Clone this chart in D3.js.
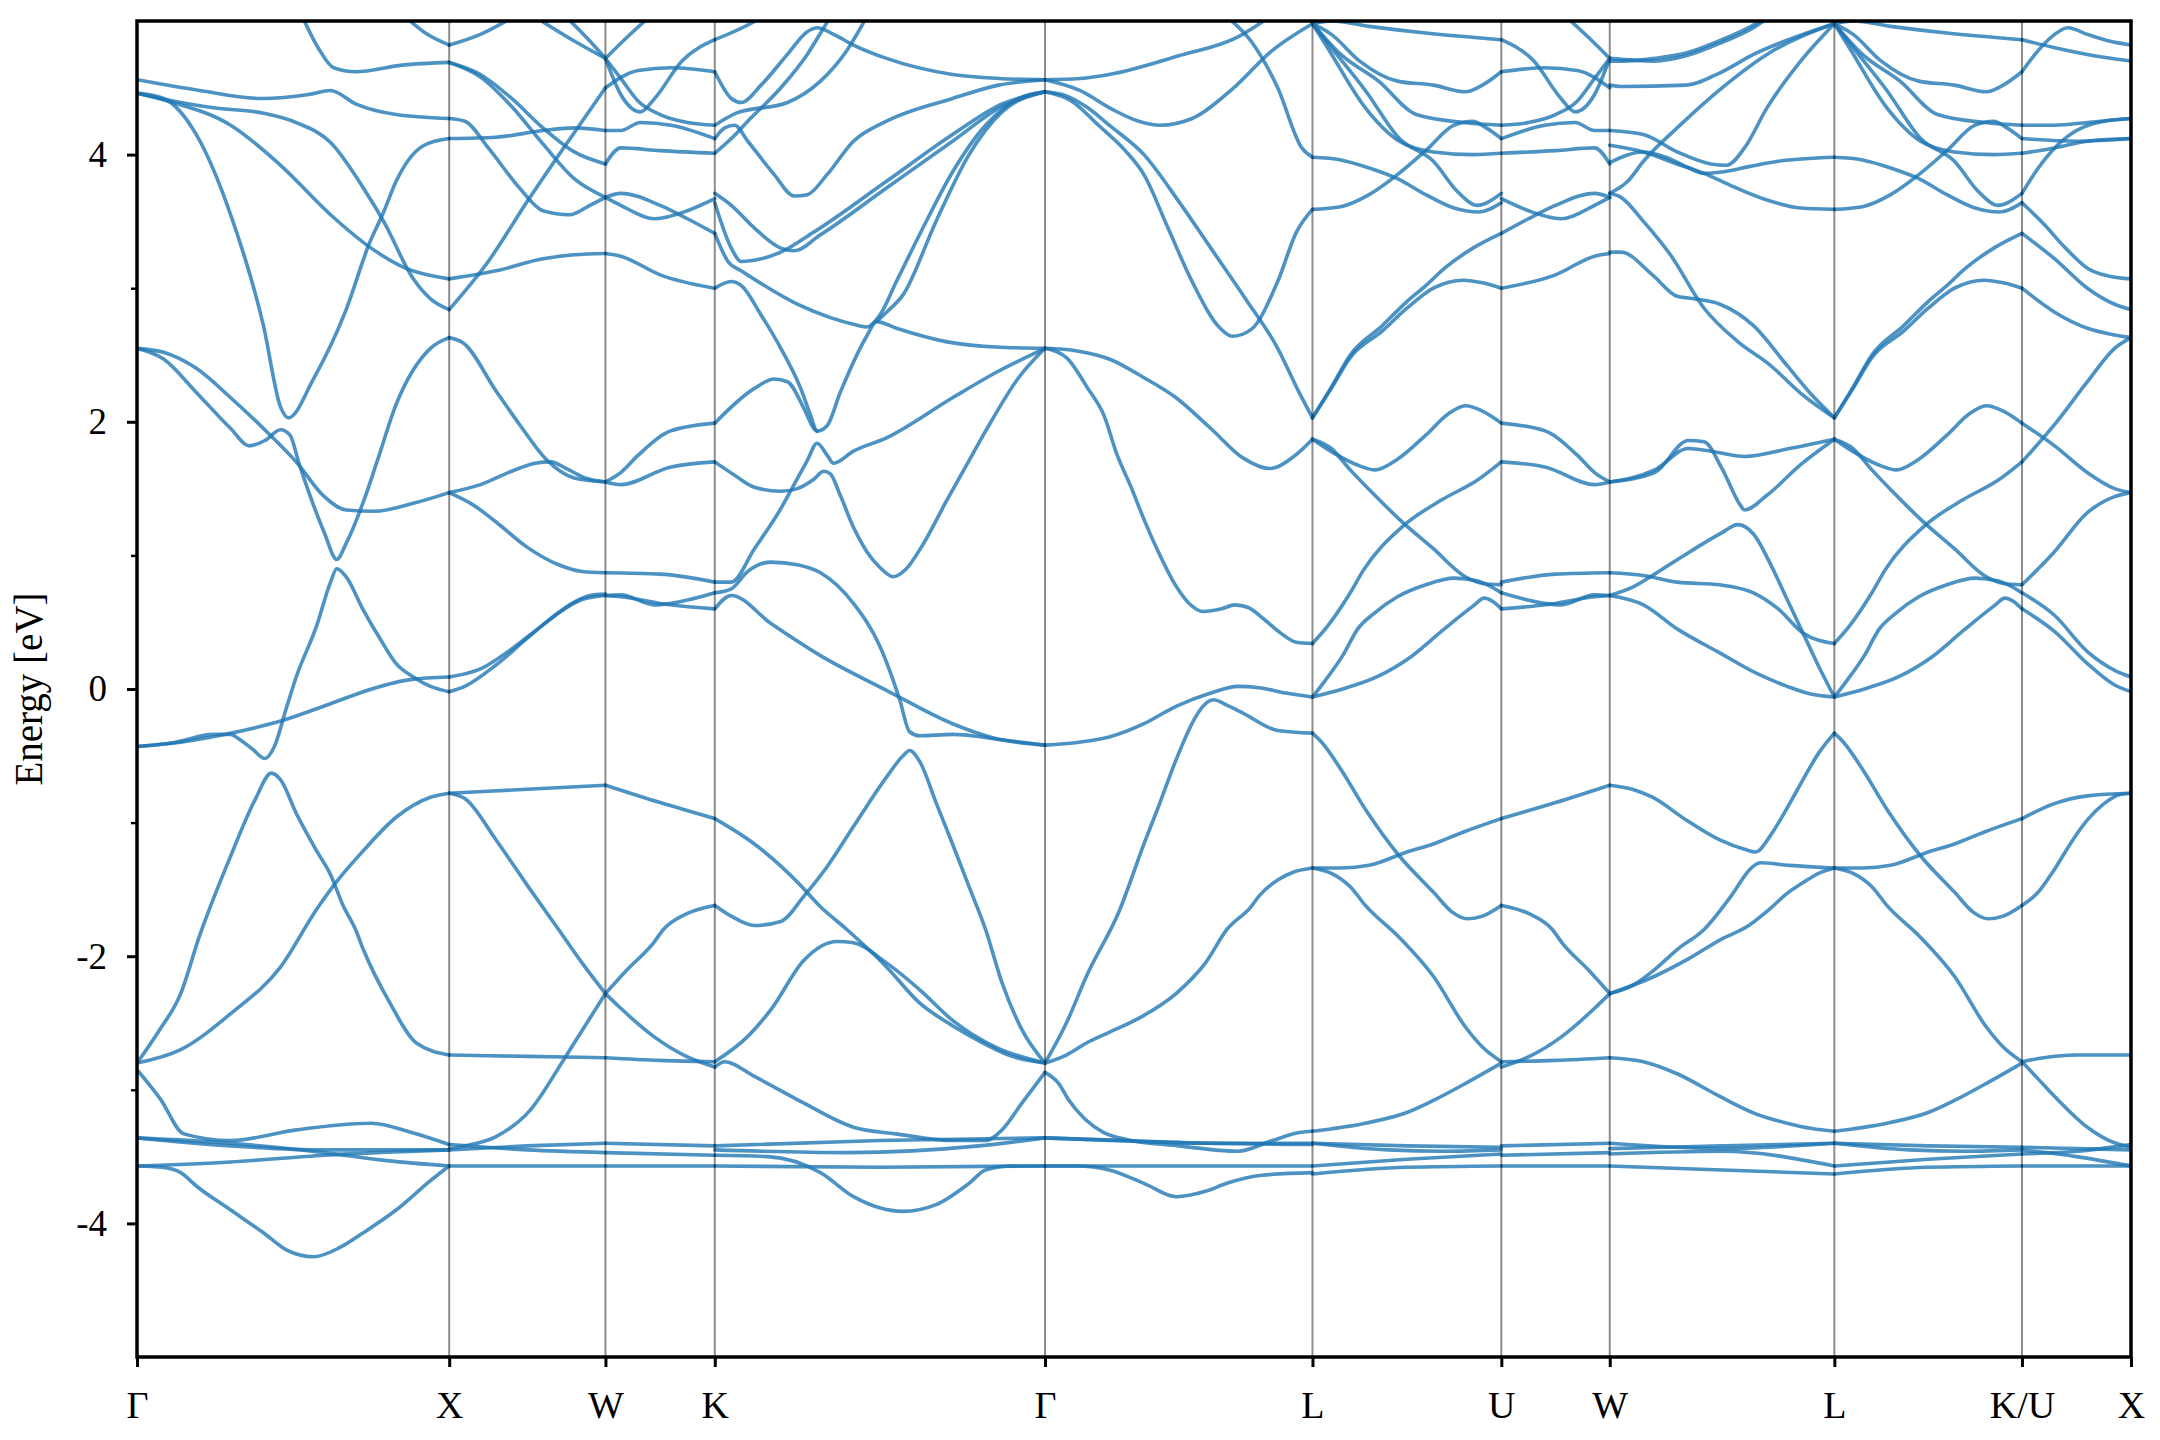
<!DOCTYPE html>
<html><head><meta charset="utf-8">
<script src="https://cdn.jsdelivr.net/npm/d3@7"></script>
<style>body{margin:0;background:#fff}svg{display:block}</style>
</head><body>
<script>
// ---------------- data ----------------
const kTicks = [0, 1.005, 1.508, 1.860, 2.923, 3.784, 4.392, 4.741, 5.464, 6.068, 6.419];
const kLabels = ["Γ","X","W","K","Γ","L","U","W","L","K/U","X"];
const yMajor = [-4, -2, 0, 2, 4];
const yMinor = [-3, -1, 1, 3];

// bands per segment: [t (0..1 along the segment), E (eV)]
const bandsGX = [
 [[0,4.56],[0.2,4.48],[0.4,4.42],[0.55,4.45],[0.62,4.48],[0.7,4.38],[0.83,4.30],[1,4.27]],
 [[0,4.46],[0.12,4.40],[0.245,4.35],[0.405,4.31],[0.51,4.24],[0.62,4.09],[0.725,3.75],[0.79,3.50],[0.885,3.07],[0.94,2.92],[1,2.84]],
 [[0,4.46],[0.1,4.40],[0.3,4.22],[0.46,3.92],[0.62,3.55],[0.75,3.30],[0.86,3.15],[1,3.07]],
 [[0,4.46],[0.085,4.42],[0.19,4.15],[0.3,3.55],[0.405,2.72],[0.46,2.11],[0.485,2.03],[0.565,2.32],[0.67,2.84],[0.745,3.34],[0.79,3.57],[0.83,3.80],[0.92,4.07],[1,4.12]],
 [[0.53,5.03],[0.58,4.80],[0.63,4.65],[0.7,4.62],[0.85,4.67],[1,4.69]],
 [[0.86,5.03],[0.93,4.90],[1,4.82]],
 [[0,2.55],[0.085,2.52],[0.19,2.40],[0.3,2.18],[0.405,1.95],[0.51,1.70],[0.6,1.44],[0.67,1.34],[0.76,1.33],[0.885,1.39],[1,1.47]],
 [[0,2.55],[0.085,2.47],[0.19,2.22],[0.3,1.95],[0.36,1.82],[0.41,1.86],[0.46,1.94],[0.49,1.90],[0.52,1.68],[0.56,1.41],[0.6,1.17],[0.64,0.97],[0.67,1.09],[0.725,1.40],[0.77,1.71],[0.83,2.13],[0.94,2.55],[1,2.63]],
 [[0,-0.43],[0.12,-0.40],[0.245,-0.34],[0.3,-0.34],[0.33,-0.38],[0.37,-0.45],[0.41,-0.52],[0.44,-0.43],[0.48,-0.13],[0.51,0.09],[0.575,0.47],[0.62,0.80],[0.64,0.90],[0.67,0.84],[0.725,0.59],[0.78,0.37],[0.83,0.19],[0.885,0.09],[0.94,0.02],[1,-0.02]],
 [[0,-0.43],[0.1,-0.41],[0.28,-0.34],[0.46,-0.24],[0.62,-0.11],[0.725,-0.02],[0.875,0.07],[1,0.09]],
 [[0,-2.80],[0.14,-2.70],[0.3,-2.43],[0.46,-2.08],[0.575,-1.65],[0.64,-1.44],[0.725,-1.21],[0.83,-0.96],[0.94,-0.81],[1,-0.78]],
 [[0,-2.80],[0.07,-2.56],[0.14,-2.28],[0.2,-1.85],[0.3,-1.25],[0.38,-0.82],[0.43,-0.63],[0.46,-0.68],[0.51,-0.93],[0.575,-1.21],[0.62,-1.39],[0.66,-1.62],[0.7,-1.80],[0.725,-1.95],[0.81,-2.35],[0.895,-2.65],[1,-2.74]],
 [[0,-2.85],[0.075,-3.07],[0.15,-3.33],[0.3,-3.38],[0.51,-3.30],[0.75,-3.25],[0.88,-3.32],[1,-3.41]],
 [[0,-3.36],[0.3,-3.42],[0.6,-3.45],[1,-3.45]],
 [[0,-3.57],[0.3,-3.54],[0.6,-3.49],[1,-3.45]],
 [[0,-3.36],[0.3,-3.40],[0.6,-3.47],[0.8,-3.53],[1,-3.57]],
 [[0,-3.57],[0.08,-3.58],[0.14,-3.62],[0.19,-3.72],[0.3,-3.90],[0.405,-4.07],[0.48,-4.20],[0.565,-4.25],[0.65,-4.18],[0.725,-4.07],[0.83,-3.90],[0.94,-3.68],[1,-3.57]]
];

const bandsXW = [
 [[0,4.82],[0.2,4.90],[0.41,5.03]],
 [[0,4.69],[0.2,4.60],[0.4,4.42],[0.6,4.20],[0.8,4.02],[1,3.93]],
 [[0,4.69],[0.2,4.58],[0.4,4.36],[0.6,4.08],[0.8,3.82],[1,3.68]],
 [[0,4.27],[0.1,4.25],[0.25,4.05],[0.45,3.75],[0.6,3.58],[0.77,3.55],[0.9,3.62],[1,3.68]],
 [[0,4.12],[0.3,4.13],[0.6,4.18],[0.8,4.20],[1,4.18]],
 [[0.55,5.03],[0.8,4.85],[1,4.72]],
 [[0.75,5.03],[0.9,4.85],[1,4.72]],
 [[0,3.07],[0.3,3.13],[0.6,3.22],[0.8,3.25],[1,3.26]],
 [[0,2.84],[0.25,3.20],[0.5,3.65],[0.75,4.08],[1,4.50]],
 [[0,1.47],[0.2,1.53],[0.4,1.63],[0.55,1.69],[0.65,1.70],[0.75,1.65],[0.87,1.58],[1,1.55]],
 [[0,2.63],[0.09,2.59],[0.3,2.23],[0.45,1.98],[0.62,1.72],[0.8,1.58],[1,1.55]],
 [[0,1.47],[0.15,1.38],[0.3,1.25],[0.5,1.06],[0.7,0.93],[0.85,0.88],[1,0.87]],
 [[0,0.09],[0.2,0.15],[0.4,0.30],[0.6,0.48],[0.8,0.65],[0.9,0.70],[1,0.71]],
 [[0,-0.02],[0.1,0.02],[0.3,0.18],[0.5,0.38],[0.7,0.57],[0.85,0.67],[1,0.70]],
 [[0,-0.78],[0.5,-0.75],[1,-0.72]],
 [[0,-0.78],[0.1,-0.82],[0.3,-1.13],[0.5,-1.47],[0.7,-1.80],[0.85,-2.05],[1,-2.28]],
 [[0,-2.74],[0.5,-2.75],[1,-2.76]],
 [[0,-3.44],[0.1,-3.42],[0.3,-3.35],[0.52,-3.15],[0.73,-2.78],[0.87,-2.52],[1,-2.28]],
 [[0,-3.45],[0.5,-3.42],[1,-3.40]],
 [[0,-3.41],[0.5,-3.45],[1,-3.47]],
 [[0,-3.57],[0.5,-3.57],[1,-3.57]]
];

const bandsWK = [
 [[0,4.72],[0.2,4.88],[0.4,5.03]],
 [[0,4.72],[0.14,4.57],[0.3,4.40],[0.5,4.30],[0.75,4.24],[1,4.22]],
 [[0,4.72],[0.14,4.45],[0.32,4.32],[0.45,4.42],[0.7,4.70],[1,4.86]],
 [[0,4.50],[0.3,4.63],[0.6,4.65],[1,4.62]],
 [[0,4.18],[0.14,4.18],[0.32,4.24],[0.6,4.22],[1,4.12]],
 [[0,3.93],[0.14,4.05],[0.5,4.03],[1,4.01]],
 [[0,3.68],[0.14,3.71],[0.5,3.62],[0.75,3.52],[1,3.41]],
 [[0,3.68],[0.14,3.62],[0.45,3.52],[0.75,3.58],[1,3.67]],
 [[0,3.26],[0.14,3.24],[0.5,3.10],[1,3.00]],
 [[0,1.55],[0.14,1.62],[0.3,1.75],[0.59,1.93],[1,1.99]],
 [[0,1.55],[0.14,1.53],[0.59,1.66],[1,1.70]],
 [[0,0.87],[0.5,0.86],[1,0.80]],
 [[0,0.70],[0.14,0.705],[0.45,0.63],[0.59,0.64],[1,0.72]],
 [[0,0.70],[0.14,0.69],[0.59,0.63],[1,0.60]],
 [[0,-0.72],[0.5,-0.85],[1,-0.97]],
 [[0,-2.28],[0.2,-2.10],[0.44,-1.90],[0.53,-1.80],[0.75,-1.68],[1,-1.62]],
 [[0,-2.28],[0.14,-2.39],[0.44,-2.60],[0.74,-2.75],[1,-2.83]],
 [[0,-2.76],[0.5,-2.78],[1,-2.79]],
 [[0,-3.40],[1,-3.42]],
 [[0,-3.47],[1,-3.49]],
 [[0,-3.57],[1,-3.57]]
];

const bandsKG = [
 [[0,4.86],[0.1,4.97],[0.15,5.04]],
 [[0,4.62],[0.05,4.42],[0.08,4.39],[0.14,4.52],[0.22,4.75],[0.28,4.92],[0.31,4.95],[0.36,4.90],[0.42,4.82],[0.52,4.72],[0.72,4.60],[0.86,4.57],[1,4.56]],
 [[0,4.22],[0.065,4.31],[0.22,4.39],[0.32,4.55],[0.4,4.78],[0.46,5.03]],
 [[0,4.12],[0.03,4.20],[0.06,4.22],[0.1,4.10],[0.18,3.85],[0.24,3.69],[0.28,3.70],[0.34,3.85],[0.42,4.10],[0.52,4.25],[0.72,4.42],[0.86,4.52],[1,4.56]],
 [[0,4.01],[0.05,4.12],[0.1,4.25],[0.2,4.50],[0.28,4.75],[0.33,4.95],[0.35,5.03]],
 [[0,3.64],[0.05,3.30],[0.08,3.20],[0.14,3.22],[0.2,3.27],[0.3,3.42],[0.52,3.80],[0.72,4.15],[0.87,4.38],[1,4.47]],
 [[0,3.71],[0.05,3.62],[0.12,3.45],[0.2,3.30],[0.24,3.28],[0.32,3.40],[0.52,3.75],[0.72,4.10],[0.87,4.36],[1,4.47]],
 [[0,3.41],[0.04,3.20],[0.08,3.13],[0.15,3.02],[0.25,2.88],[0.35,2.78],[0.42,2.73],[0.46,2.71],[0.5,2.80],[0.55,3.05],[0.62,3.40],[0.72,3.87],[0.82,4.22],[0.92,4.42],[1,4.47]],
 [[0,3.00],[0.05,3.05],[0.08,3.02],[0.14,2.80],[0.2,2.55],[0.26,2.25],[0.29,2.05],[0.31,1.93],[0.34,1.97],[0.38,2.22],[0.46,2.64],[0.49,2.75],[0.55,2.70],[0.7,2.60],[0.85,2.56],[1,2.55]],
 [[0.49,2.75],[0.52,2.82],[0.57,2.95],[0.67,3.50],[0.77,4.00],[0.87,4.32],[1,4.47]],
 [[0,1.99],[0.12,2.25],[0.18,2.32],[0.22,2.30],[0.27,2.10],[0.3,1.95],[0.31,1.93]],
 [[0,0.80],[0.05,0.80],[0.12,1.05],[0.2,1.35],[0.24,1.53],[0.28,1.71],[0.31,1.84],[0.34,1.75],[0.36,1.69],[0.42,1.78],[0.52,1.88],[0.72,2.18],[0.86,2.38],[1,2.55]],
 [[0,1.70],[0.06,1.60],[0.12,1.51],[0.2,1.48],[0.25,1.50],[0.3,1.57],[0.33,1.63],[0.35,1.61],[0.38,1.45],[0.42,1.21],[0.46,1.03],[0.5,0.91],[0.54,0.84],[0.58,0.90],[0.63,1.08],[0.7,1.40],[0.77,1.71],[0.82,1.93],[0.92,2.33],[1,2.55]],
 [[0,0.60],[0.05,0.70],[0.17,0.49],[0.32,0.25],[0.52,-0.01],[0.72,-0.26],[0.85,-0.37],[0.92,-0.40],[1,-0.42]],
 [[0,0.72],[0.05,0.75],[0.1,0.88],[0.17,0.95],[0.25,0.93],[0.32,0.87],[0.42,0.64],[0.5,0.32],[0.56,-0.08],[0.59,-0.32],[0.62,-0.35],[0.72,-0.34],[0.87,-0.38],[1,-0.42]],
 [[0,-0.97],[0.12,-1.16],[0.26,-1.47],[0.32,-1.63],[0.40,-1.80],[0.52,-2.08],[0.62,-2.35],[0.72,-2.52],[0.82,-2.66],[0.9,-2.75],[1,-2.80]],
 [[0,-1.62],[0.05,-1.70],[0.12,-1.77],[0.2,-1.74],[0.27,-1.55],[0.34,-1.33],[0.42,-1.03],[0.52,-0.66],[0.57,-0.50],[0.59,-0.46],[0.62,-0.54],[0.67,-0.85],[0.72,-1.16],[0.77,-1.48],[0.82,-1.80],[0.87,-2.20],[0.93,-2.55],[1,-2.80]],
 [[0,-2.79],[0.1,-2.60],[0.17,-2.40],[0.27,-2.03],[0.37,-1.89],[0.42,-1.90],[0.52,-2.05],[0.62,-2.25],[0.72,-2.48],[0.85,-2.68],[1,-2.80]],
 [[0,-2.83],[0.03,-2.79],[0.12,-2.90],[0.27,-3.10],[0.42,-3.28],[0.55,-3.33],[0.72,-3.38],[0.82,-3.38],[0.87,-3.30],[0.93,-3.10],[1,-2.87]],
 [[0,-3.49],[0.16,-3.50],[0.32,-3.62],[0.42,-3.80],[0.57,-3.91],[0.67,-3.86],[0.77,-3.70],[0.82,-3.60],[0.9,-3.57],[1,-3.57]],
 [[0,-3.42],[0.5,-3.38],[1,-3.36]],
 [[0,-3.57],[0.5,-3.58],[1,-3.57]],
 [[0,-3.45],[0.4,-3.47],[0.8,-3.42],[1,-3.36]]
];

const bandsGL = [
 [[0,4.56],[0.13,4.57],[0.24,4.60],[0.5,4.74],[0.72,4.88],[0.84,5.03]],
 [[0,4.56],[0.13,4.48],[0.25,4.34],[0.35,4.25],[0.43,4.22],[0.55,4.27],[0.7,4.49],[0.85,4.78],[1,4.98]],
 [[0,4.47],[0.08,4.44],[0.16,4.35],[0.24,4.22],[0.37,4.00],[0.5,3.65],[0.62,3.30],[0.75,2.92],[0.87,2.55],[0.95,2.22],[1,2.03]],
 [[0,4.47],[0.1,4.40],[0.2,4.22],[0.3,4.03],[0.37,3.85],[0.46,3.45],[0.55,3.05],[0.655,2.70],[0.7,2.64],[0.77,2.69],[0.87,3.05],[0.94,3.42],[1,3.59]],
 [[0.68,5.03],[0.77,4.85],[0.87,4.50],[0.96,4.05],[1,3.98]],
 [[0,2.55],[0.12,2.53],[0.24,2.47],[0.37,2.33],[0.49,2.18],[0.62,1.95],[0.74,1.73],[0.84,1.65],[0.93,1.74],[1,1.87]],
 [[0,2.55],[0.08,2.48],[0.16,2.25],[0.22,2.05],[0.27,1.75],[0.32,1.52],[0.37,1.27],[0.43,1.0],[0.49,0.77],[0.55,0.62],[0.59,0.58],[0.66,0.60],[0.71,0.63],[0.76,0.61],[0.82,0.52],[0.88,0.42],[0.94,0.35],[1,0.34]],
 [[0,-0.42],[0.12,-0.40],[0.24,-0.36],[0.37,-0.26],[0.49,-0.13],[0.62,-0.03],[0.72,0.02],[0.8,0.01],[0.9,-0.03],[1,-0.06]],
 [[0,-2.80],[0.08,-2.50],[0.155,-2.15],[0.28,-1.65],[0.37,-1.16],[0.43,-0.85],[0.49,-0.53],[0.56,-0.22],[0.59,-0.13],[0.63,-0.08],[0.68,-0.12],[0.74,-0.18],[0.87,-0.31],[1,-0.33]],
 [[0,-2.80],[0.08,-2.74],[0.155,-2.65],[0.24,-2.57],[0.355,-2.46],[0.49,-2.28],[0.6,-2.05],[0.68,-1.80],[0.77,-1.63],[0.8,-1.55],[0.87,-1.43],[0.93,-1.37],[1,-1.34]],
 [[0,-2.87],[0.05,-2.95],[0.09,-3.08],[0.15,-3.22],[0.22,-3.32],[0.3,-3.37],[0.5,-3.42],[0.72,-3.46],[0.85,-3.38],[0.95,-3.32],[1,-3.31]],
 [[0,-3.36],[0.3,-3.38],[0.6,-3.40],[1,-3.40]],
 [[0,-3.57],[0.5,-3.57],[1,-3.57]],
 [[0,-3.57],[0.12,-3.57],[0.24,-3.60],[0.37,-3.70],[0.49,-3.80],[0.6,-3.76],[0.68,-3.70],[0.81,-3.64],[1,-3.62]],
 [[0,-3.36],[0.4,-3.39],[1,-3.41]]
];

// L -> K (the L -> U path is symmetry-equivalent and is drawn from the same list)
const bandsLK = [
 [[0,4.98],[0.1,5.00],[0.3,4.96],[0.6,4.91],[1,4.86]],
 [[0,4.98],[0.1,4.90],[0.25,4.70],[0.45,4.55],[0.64,4.52],[0.81,4.47],[0.9,4.52],[1,4.62]],
 [[0,4.98],[0.15,4.75],[0.35,4.55],[0.55,4.30],[0.8,4.24],[1,4.22]],
 [[0,4.98],[0.1,4.80],[0.28,4.48],[0.46,4.12],[0.64,3.95],[0.77,3.72],[0.87,3.62],[1,3.71]],
 [[0,4.98],[0.08,4.80],[0.28,4.35],[0.46,4.10],[0.64,4.02],[0.85,4.00],[1,4.01]],
 [[0,3.98],[0.15,3.96],[0.3,3.90],[0.45,3.82],[0.6,3.70],[0.75,3.60],[0.88,3.57],[1,3.64]],
 [[0,3.59],[0.15,3.61],[0.3,3.70],[0.45,3.85],[0.6,4.03],[0.75,4.22],[0.85,4.25],[0.92,4.20],[1,4.12]],
 [[0,2.03],[0.1,2.25],[0.2,2.48],[0.37,2.68],[0.5,2.85],[0.64,3.00],[0.8,3.06],[0.9,3.04],[1,3.00]],
 [[0,2.03],[0.1,2.26],[0.2,2.50],[0.37,2.72],[0.5,2.90],[0.6,3.02],[0.7,3.15],[0.85,3.30],[1,3.41]],
 [[0,1.87],[0.12,1.76],[0.25,1.67],[0.33,1.64],[0.45,1.72],[0.6,1.90],[0.72,2.06],[0.81,2.12],[0.9,2.08],[1,1.99]],
 [[0,1.87],[0.1,1.80],[0.2,1.64],[0.33,1.45],[0.46,1.27],[0.64,1.05],[0.81,0.84],[0.9,0.79],[1,0.78]],
 [[0,0.34],[0.08,0.47],[0.2,0.72],[0.27,0.89],[0.48,1.22],[0.69,1.42],[0.87,1.56],[1,1.70]],
 [[0,-0.06],[0.06,0.05],[0.16,0.25],[0.24,0.45],[0.33,0.57],[0.45,0.69],[0.6,0.78],[0.75,0.83],[0.87,0.81],[0.94,0.77],[1,0.72]],
 [[0,-0.06],[0.16,0.0],[0.34,0.09],[0.52,0.24],[0.69,0.44],[0.85,0.62],[0.91,0.68],[0.95,0.66],[1,0.60]],
 [[0,-0.33],[0.05,-0.40],[0.15,-0.60],[0.28,-0.90],[0.46,-1.25],[0.64,-1.52],[0.74,-1.67],[0.82,-1.72],[0.9,-1.70],[1,-1.62]],
 [[0,-1.34],[0.15,-1.34],[0.3,-1.32],[0.5,-1.22],[0.64,-1.16],[0.8,-1.07],[1,-0.97]],
 [[0,-1.34],[0.1,-1.38],[0.2,-1.48],[0.28,-1.62],[0.46,-1.86],[0.64,-2.15],[0.81,-2.53],[0.9,-2.68],[1,-2.79]],
 [[0,-3.31],[0.28,-3.25],[0.5,-3.17],[0.64,-3.08],[0.8,-2.96],[1,-2.80]],
 [[0,-3.40],[0.5,-3.42],[1,-3.43]],
 [[0,-3.40],[0.4,-3.45],[0.7,-3.46],[1,-3.45]],
 [[0,-3.57],[0.5,-3.52],[1,-3.48]],
 [[0,-3.63],[0.5,-3.58],[1,-3.57]]
];

const bandsWL = [
 [[0,4.70],[0.05,4.70],[0.2,4.72],[0.34,4.76],[0.5,4.86],[0.64,4.97],[0.7,5.03]],
 [[0,4.72],[0.2,4.70],[0.34,4.74],[0.5,4.84],[0.64,4.95],[0.71,5.03]],
 [[0,4.52],[0.05,4.51],[0.34,4.52],[0.5,4.62],[0.64,4.75],[0.86,4.90],[1,4.98]],
 [[0,4.18],[0.15,4.15],[0.3,4.02],[0.45,3.93],[0.52,3.92],[0.6,4.05],[0.7,4.35],[0.85,4.70],[1,4.98]],
 [[0,3.71],[0.08,3.80],[0.15,3.95],[0.3,4.20],[0.5,4.50],[0.7,4.75],[1,4.98]],
 [[0,3.94],[0.15,4.02],[0.25,3.98],[0.34,3.91],[0.42,3.86],[0.5,3.87],[0.62,3.91],[0.75,3.95],[1,3.98]],
 [[0,4.07],[0.15,4.02],[0.3,3.93],[0.42,3.86],[0.55,3.76],[0.7,3.66],[0.85,3.60],[1,3.59]],
 [[0,3.27],[0.05,3.27],[0.19,3.10],[0.3,2.94],[0.38,2.92],[0.49,2.88],[0.64,2.72],[0.79,2.42],[0.9,2.20],[1,2.03]],
 [[0,3.71],[0.05,3.68],[0.15,3.50],[0.27,3.25],[0.42,2.85],[0.57,2.60],[0.71,2.43],[0.86,2.20],[1,2.03]],
 [[0,1.55],[0.2,1.62],[0.35,1.86],[0.42,1.85],[0.5,1.65],[0.58,1.38],[0.6,1.34],[0.7,1.45],[0.85,1.68],[1,1.87]],
 [[0,1.55],[0.2,1.64],[0.35,1.80],[0.45,1.78],[0.6,1.74],[0.8,1.80],[1,1.87]],
 [[0,0.87],[0.15,0.85],[0.3,0.80],[0.49,0.78],[0.64,0.72],[0.75,0.60],[0.86,0.42],[1,0.34]],
 [[0,0.70],[0.15,0.63],[0.3,0.45],[0.49,0.27],[0.65,0.12],[0.79,0.02],[0.9,-0.04],[1,-0.06]],
 [[0,0.70],[0.1,0.76],[0.2,0.86],[0.35,1.02],[0.5,1.17],[0.57,1.23],[0.64,1.16],[0.72,0.92],[0.79,0.67],[0.86,0.42],[0.93,0.17],[1,-0.06]],
 [[0,-0.72],[0.1,-0.75],[0.19,-0.81],[0.34,-0.98],[0.49,-1.13],[0.6,-1.20],[0.65,-1.22],[0.71,-1.11],[0.78,-0.92],[0.86,-0.68],[0.93,-0.48],[1,-0.33]],
 [[0,-2.28],[0.1,-2.22],[0.2,-2.10],[0.3,-1.95],[0.42,-1.80],[0.54,-1.55],[0.63,-1.34],[0.67,-1.30],[0.8,-1.32],[1,-1.34]],
 [[0,-2.28],[0.2,-2.15],[0.35,-2.02],[0.5,-1.87],[0.61,-1.78],[0.71,-1.65],[0.79,-1.53],[0.87,-1.44],[0.93,-1.38],[1,-1.34]],
 [[0,-2.76],[0.15,-2.79],[0.3,-2.88],[0.49,-3.05],[0.65,-3.18],[0.79,-3.25],[0.9,-3.29],[1,-3.31]],
 [[0,-3.40],[0.5,-3.44],[1,-3.40]],
 [[0,-3.44],[0.5,-3.42],[1,-3.40]],
 [[0,-3.48],[0.5,-3.46],[1,-3.57]],
 [[0,-3.57],[0.5,-3.60],[1,-3.63]]
];

const bandsKX = [
 [[0,4.86],[0.3,4.80],[0.6,4.75],[1,4.70]],
 [[0,4.62],[0.15,4.78],[0.3,4.90],[0.42,4.95],[0.6,4.90],[0.8,4.85],[1,4.82]],
 [[0,4.22],[0.3,4.22],[0.6,4.24],[1,4.27]],
 [[0,4.12],[0.5,4.10],[1,4.12]],
 [[0,4.01],[0.3,4.05],[0.6,4.10],[1,4.12]],
 [[0,3.71],[0.15,3.90],[0.3,4.05],[0.5,4.18],[0.75,4.25],[1,4.27]],
 [[0,3.64],[0.2,3.48],[0.4,3.30],[0.6,3.15],[0.8,3.09],[1,3.07]],
 [[0,3.41],[0.3,3.22],[0.6,3.00],[0.85,2.88],[1,2.84]],
 [[0,3.00],[0.3,2.82],[0.6,2.70],[0.85,2.65],[1,2.63]],
 [[0,1.99],[0.3,1.82],[0.6,1.62],[0.85,1.50],[1,1.47]],
 [[0,1.70],[0.3,1.98],[0.6,2.30],[0.85,2.55],[1,2.63]],
 [[0,0.78],[0.29,1.02],[0.6,1.32],[0.85,1.44],[1,1.47]],
 [[0,0.72],[0.3,0.55],[0.6,0.28],[0.85,0.14],[1,0.09]],
 [[0,0.60],[0.3,0.43],[0.6,0.19],[0.85,0.03],[1,-0.02]],
 [[0,-0.97],[0.29,-0.86],[0.6,-0.80],[1,-0.78]],
 [[0,-1.62],[0.15,-1.52],[0.29,-1.36],[0.45,-1.15],[0.6,-0.98],[0.75,-0.86],[0.9,-0.79],[1,-0.78]],
 [[0,-2.79],[0.2,-2.76],[0.5,-2.74],[1,-2.74]],
 [[0,-2.79],[0.15,-2.92],[0.3,-3.05],[0.6,-3.28],[0.8,-3.38],[1,-3.43]],
 [[0,-3.43],[1,-3.45]],
 [[0,-3.48],[0.5,-3.46],[1,-3.41]],
 [[0,-3.57],[1,-3.57]],
 [[0,-3.45],[0.5,-3.50],[1,-3.57]]
];

// ---------------- chart ----------------
const W = 2160, H = 1440;
const M = {left: 137, right: 2131, top: 21, bottom: 1357};
const x = d3.scaleLinear().domain([kTicks[0], kTicks[kTicks.length-1]]).range([M.left, M.right]);
const y = d3.scaleLinear().domain([-5, 5]).range([M.bottom, M.top]);

const segments = [
 {i:0, bands:bandsGX}, {i:1, bands:bandsXW}, {i:2, bands:bandsWK}, {i:3, bands:bandsKG},
 {i:4, bands:bandsGL}, {i:5, bands:bandsLK}, {i:6, bands:bandsWK, reverse:true},
 {i:7, bands:bandsWL}, {i:8, bands:bandsLK}, {i:9, bands:bandsKX}
];

const svg = d3.select("body").append("svg").attr("width", W).attr("height", H);
const font = "'Liberation Serif','Times New Roman',serif";

svg.append("defs").append("clipPath").attr("id","plotclip")
  .append("rect").attr("x",M.left).attr("y",M.top)
  .attr("width",M.right-M.left).attr("height",M.bottom-M.top);

const line = d3.line().x(d => x(d[0])).y(d => y(d[1])).curve(d3.curveMonotoneX);

const gb = svg.append("g").attr("clip-path","url(#plotclip)");
segments.forEach(seg => {
  const k0 = kTicks[seg.i], k1 = kTicks[seg.i+1];
  seg.bands.forEach(b => {
    let pts = b.map(([t,e]) => [k0 + (seg.reverse ? 1-t : t)*(k1-k0), e]);
    pts.sort((p,q) => p[0]-q[0]);
    gb.append("path").attr("d", line(pts))
      .attr("fill","none").attr("stroke","#1f77b4")
      .attr("stroke-opacity",0.8).attr("stroke-width",3.6)
      .attr("stroke-linejoin","round").attr("stroke-linecap","round");
  });
});

// vertical k-point lines
svg.append("g").selectAll("line").data(kTicks.slice(1,-1)).join("line")
  .attr("x1",d=>x(d)).attr("x2",d=>x(d)).attr("y1",M.top).attr("y2",M.bottom)
  .attr("stroke","#000").attr("stroke-opacity",0.45).attr("stroke-width",2);

// frame
svg.append("rect").attr("x",M.left).attr("y",M.top)
  .attr("width",M.right-M.left).attr("height",M.bottom-M.top)
  .attr("fill","none").attr("stroke","#000").attr("stroke-width",3.5);

// y axis
const yAxis = d3.axisLeft(y).tickValues(yMajor).tickSize(10).tickPadding(20).tickFormat(d => d < 0 ? "-" + Math.abs(d) : String(d));
const gy = svg.append("g").attr("transform",`translate(${M.left},0)`).call(yAxis);
gy.select(".domain").remove();
gy.selectAll(".tick line").attr("stroke","#000").attr("stroke-width",3);
gy.selectAll(".tick text").attr("font-family",font).attr("font-size",37).attr("fill","#000");
const yMinorAxis = d3.axisLeft(y).tickValues(yMinor).tickSize(6).tickFormat("");
const gym = svg.append("g").attr("transform",`translate(${M.left},0)`).call(yMinorAxis);
gym.select(".domain").remove();
gym.selectAll(".tick line").attr("stroke","#000").attr("stroke-width",2.4);

// x axis
const xAxis = d3.axisBottom(x).tickValues(kTicks).tickSize(10).tickPadding(24).tickFormat((d,i) => kLabels[i]);
const gx = svg.append("g").attr("transform",`translate(0,${M.bottom})`).call(xAxis);
gx.select(".domain").remove();
gx.selectAll(".tick line").attr("stroke","#000").attr("stroke-width",3);
gx.selectAll(".tick text").attr("font-family",font).attr("font-size",38).attr("fill","#000");

// y label
svg.append("text").attr("transform",`translate(42,${y(0)}) rotate(-90)`)
  .attr("text-anchor","middle").attr("font-family",font).attr("font-size",39)
  .text("Energy [eV]");
</script>
</body></html>
